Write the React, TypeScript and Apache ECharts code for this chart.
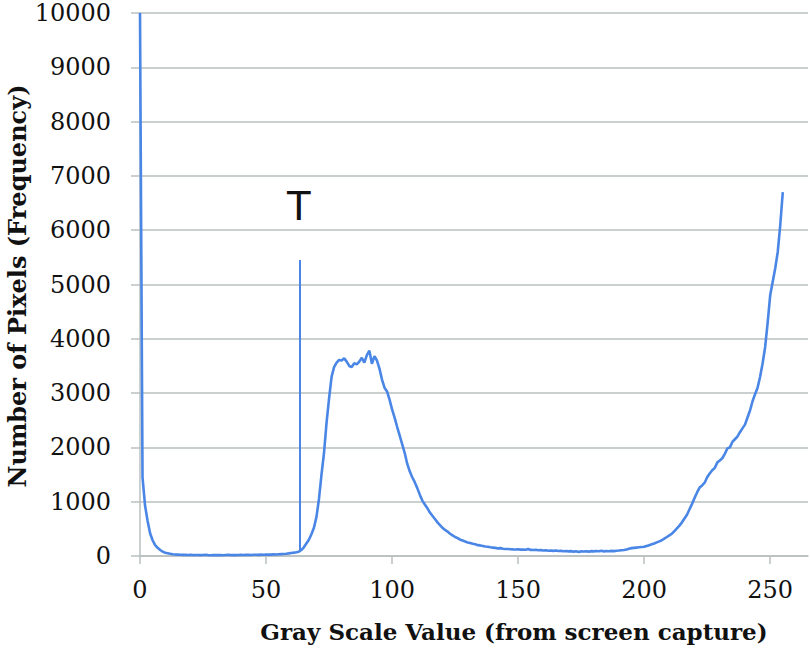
import React, { useEffect, useRef } from "react";
import * as echarts from "echarts";

// Frequency (number of pixels) for each gray scale value 0..255
const frequency: number[] = [
  10000, 1450, 930, 650, 420, 290, 200, 150, 110, 80,
  60, 50, 40, 32, 28, 25, 22, 20, 22, 18,
  20, 17, 19, 18, 16, 18, 20, 17, 15, 18,
  16, 19, 17, 15, 18, 20, 17, 19, 16, 18,
  21, 19, 22, 20, 18, 22, 24, 21, 25, 23,
  26, 28, 25, 30, 28, 32, 35, 38, 42, 48,
  55, 62, 70, 80, 110, 160, 230, 300, 400, 520,
  720, 1050, 1500, 1900, 2450, 2900, 3300, 3480, 3560, 3610,
  3600, 3640, 3580, 3500, 3480, 3550, 3530, 3580, 3650, 3560,
  3700, 3780, 3540, 3680, 3600, 3450, 3250, 3100, 3030, 2880,
  2700, 2550, 2380, 2220, 2060, 1900, 1700, 1560, 1450, 1360,
  1250, 1130, 1020, 950, 880, 800, 740, 680, 620, 570,
  520, 480, 450, 410, 380, 350, 330, 300, 285, 265,
  250, 240, 225, 215, 200, 195, 185, 175, 170, 160,
  155, 150, 140, 145, 135, 130, 128, 125, 122, 120,
  125, 118, 120, 115, 130, 112, 110, 115, 105, 108,
  100, 105, 98, 102, 95, 100, 92, 95, 88, 92,
  85, 90, 80, 88, 75, 85, 82, 88, 80, 90,
  85, 92, 88, 95, 85, 92, 88, 95, 90, 98,
  100, 105, 110, 120, 135, 145, 150, 155, 160, 165,
  170, 185, 200, 215, 230, 250, 270, 290, 320, 350,
  380, 410, 460, 510, 560, 620, 690, 760, 860, 960,
  1070, 1170, 1260, 1300, 1350, 1450, 1520, 1580, 1620, 1720,
  1760, 1800, 1880, 1980, 2000, 2100, 2150, 2200, 2280, 2350,
  2420, 2550, 2680, 2850, 2980, 3100, 3300, 3550, 3850, 4300,
  4800, 5050, 5300, 5600, 6100, 6700,
];

const xTickValues: number[] = [0, 50, 100, 150, 200, 250];
const xTitle = "Gray Scale Value (from screen capture)";
const yTitle = "Number of Pixels (Frequency)";
const thresholdLabel = "T";
const thresholdValue = 63.5;
const thresholdLineTop = 5450;
const thresholdLineBottom = 80;
const thresholdLabelY = 6450;

export default function App() {
  const ref = useRef<HTMLDivElement>(null);

  useEffect(() => {
    if (!ref.current) return;
    const chart = echarts.init(ref.current, null, { renderer: "svg" });
    const seriesData = frequency.map((f, i) => [i, f]);
    const gridColor = "#b9bfbf";
    const serif = "'DejaVu Serif', 'Liberation Serif', serif";
    const lineColor = "#4a86e6";

    chart.setOption({
      animation: false,
      backgroundColor: "#ffffff",
      grid: { left: 140, right: 2, top: 13, bottom: 92, containLabel: false },
      xAxis: {
        type: "value",
        min: 0,
        max: 265,
        interval: 50,
        axisLine: { show: true, lineStyle: { color: gridColor, width: 1.5 } },
        axisTick: {
          show: true,
          length: 8,
          customValues: xTickValues,
          lineStyle: { color: gridColor, width: 1.5 },
        },
        axisLabel: {
          customValues: xTickValues,
          margin: 22,
          color: "#111",
          fontFamily: serif,
          fontSize: 24,
        },
        splitLine: { show: false },
      },
      yAxis: {
        type: "value",
        min: 0,
        max: 10000,
        interval: 1000,
        axisLine: { show: true, lineStyle: { color: gridColor, width: 1.5 } },
        axisTick: { show: true, length: 9, lineStyle: { color: gridColor, width: 1.5 } },
        axisLabel: {
          margin: 29,
          color: "#111",
          fontFamily: serif,
          fontSize: 24,
          formatter: (v: number) => String(v),
        },
        splitLine: { show: true, lineStyle: { color: gridColor, width: 1.5 } },
      },
      series: [
        {
          type: "line",
          data: seriesData,
          symbol: "none",
          smooth: false,
          lineStyle: { color: lineColor, width: 2.6 },
          markLine: {
            symbol: "none",
            silent: true,
            label: { show: false },
            lineStyle: { color: lineColor, width: 2, type: "solid" },
            data: [
              [
                { coord: [thresholdValue, thresholdLineBottom] },
                { coord: [thresholdValue, thresholdLineTop] },
              ],
            ],
          },
          markPoint: {
            symbol: "circle",
            symbolSize: 1,
            itemStyle: { color: "rgba(0,0,0,0)" },
            label: {
              show: true,
              position: "inside",
              formatter: thresholdLabel,
              color: "#111",
              fontFamily: "'Liberation Sans', Arial, sans-serif",
              fontSize: 42,
            },
            data: [{ coord: [thresholdValue - 0.5, thresholdLabelY] }],
          },
        },
      ],
      graphic: [
        {
          type: "text",
          x: 514,
          y: 631,
          style: {
            text: xTitle,
            fill: "#111",
            font: "bold 23px 'DejaVu Serif', 'Liberation Serif', serif",
            textAlign: "center",
            textVerticalAlign: "middle",
          },
        },
        {
          type: "text",
          x: 17,
          y: 286,
          rotation: Math.PI / 2,
          style: {
            text: yTitle,
            fill: "#111",
            font: "bold 24px 'DejaVu Serif', 'Liberation Serif', serif",
            textAlign: "center",
            textVerticalAlign: "middle",
          },
        },
      ],
    });

    return () => chart.dispose();
  }, []);

  return (
    <div
      ref={ref}
      style={{ position: "absolute", left: 0, top: 0, width: 810, height: 648 }}
    />
  );
}
